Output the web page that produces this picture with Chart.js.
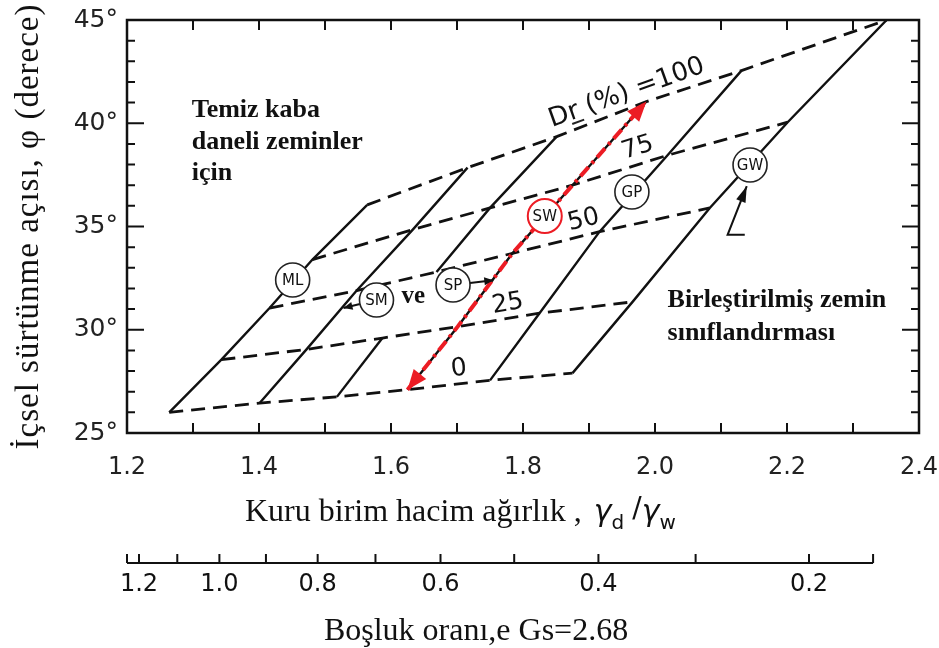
<!DOCTYPE html>
<html>
<head>
<meta charset="utf-8">
<title>İçsel sürtünme açısı - kuru birim hacim ağırlık</title>
<script src="https://cdn.jsdelivr.net/npm/chart.js@4.4.1/dist/chart.umd.min.js"></script>
<style>
  html, body { margin: 0; padding: 0; background: #fff; }
</style>
</head>
<body>
<canvas id="phiChart" width="939" height="648"></canvas>
<script>
// specific gravity used for the void ratio scale
const GS = 2.68;

// relative density contours, Dr (%)
const drLevels = [0, 25, 50, 75, 100];
const drLabels = ['0', '25', '50', '75', '100'];

// dry unit weight (γd/γw) and friction angle φ where each soil line meets a Dr contour
// (null = the line does not reach that contour)
const mlGamma = [1.264, 1.343, 1.416, 1.481, 1.564];
const mlPhi = [26.0, 28.55, 31.05, 33.4, 36.05];
const smGamma = [1.401, 1.472, 1.548, 1.633, 1.716];
const smPhi = [26.45, 29.05, 31.9, 34.85, 37.85];
const midGamma = [1.518, 1.587, null, null, null];
const midPhi = [26.75, 29.6, null, null, null];
const spGamma = [null, null, 1.669, 1.750, 1.851];
const spPhi = [null, null, 32.8, 35.9, 39.35];
const swGamma = [1.625, 1.701, 1.784, 1.875, 1.987];
const swPhi = [27.1, 30.15, 33.7, 37.0, 41.05];
const gpGamma = [1.750, 1.825, 1.916, 2.019, 2.131];
const gpPhi = [27.55, 30.8, 34.75, 38.45, 42.55];
const gwGamma = [1.875, 1.966, 2.083, 2.201, 2.351];
const gwPhi = [27.9, 31.35, 35.9, 40.05, 45.0];

// soil group symbols (circled) on the lines
const soilSymbols = ['ML', 'SM', 'SP', 'SW', 'GP', 'GW'];
const symbolGamma = [1.451, 1.578, 1.694, 1.833, 1.965, 2.144];
const symbolPhi = [32.41, 31.44, 32.17, 35.51, 36.67, 37.98];

// axis ticks
const gammaTicks = [1.2, 1.3, 1.4, 1.5, 1.6, 1.7, 1.8, 1.9, 2.0, 2.1, 2.2, 2.3, 2.4];
const gammaLabels = ['1.2', '1.4', '1.6', '1.8', '2.0', '2.2', '2.4'];
const phiTicks = [25, 26, 27, 28, 29, 30, 31, 32, 33, 34, 35, 36, 37, 38, 39, 40, 41, 42, 43, 44, 45];
const phiLabels = ['25°', '30°', '35°', '40°', '45°'];
const voidTicks = [1.2, 1.1, 1.0, 0.9, 0.8, 0.7, 0.6, 0.5, 0.4, 0.3, 0.2];
const voidLabels = ['1.2', '1.0', '0.8', '0.6', '0.4', '0.2'];
const voidAxisEnd = 0.15;

// where the Dr numbers sit (γd/γw, φ) — 0, 25, 50, 75 and the "Dr (%) =100" text start
const drTagAt = [[1.703, 28.10], [1.777, 31.25], [1.892, 35.31], [1.974, 38.80], [1.844, 39.82]];

const soilLines = [
  { gamma: mlGamma, phi: mlPhi },
  { gamma: smGamma, phi: smPhi },
  { gamma: midGamma, phi: midPhi },
  { gamma: spGamma, phi: spPhi },
  { gamma: swGamma, phi: swPhi },
  { gamma: gpGamma, phi: gpPhi },
  { gamma: gwGamma, phi: gwPhi }
];

function toPoints(g, p) {
  return g.map((v, i) => (v === null ? null : { x: v, y: p[i] })).filter(Boolean);
}

const datasets = [];

// red dash-dot path along the SW line (arrow heads added by the plugin)
datasets.push({
  data: toPoints(swGamma, swPhi),
  borderColor: '#ec1c24',
  borderWidth: 4,
  borderDash: [12, 5, 3, 5],
  order: 0
});

soilLines.forEach(l => {
  datasets.push({
    data: toPoints(l.gamma, l.phi),
    borderColor: '#111',
    borderWidth: 2.4,
    order: 1
  });
});

drLevels.forEach((dr, i) => {
  const pts = soilLines
    .filter(l => l.gamma[i] !== null)
    .map(l => ({ x: l.gamma[i], y: l.phi[i] }))
    .sort((a, b) => a.x - b.x);
  datasets.push({
    data: pts,
    borderColor: '#111',
    borderWidth: 2.8,
    borderDash: [14, 8],
    order: 2
  });
});

function arrowHead(ctx, from, to, len, half, color) {
  const a = Math.atan2(to.y - from.y, to.x - from.x);
  ctx.save();
  ctx.translate(to.x, to.y);
  ctx.rotate(a);
  ctx.beginPath();
  ctx.moveTo(0, 0);
  ctx.lineTo(-len, half);
  ctx.lineTo(-len, -half);
  ctx.closePath();
  ctx.fillStyle = color;
  ctx.fill();
  ctx.restore();
}

const overlay = {
  id: 'phiOverlay',
  afterDatasetsDraw(chart) {
    const { ctx, scales: { x, y } } = chart;
    const P = (g, f) => ({ x: x.getPixelForValue(g), y: y.getPixelForValue(f) });
    ctx.save();

    // arrow heads on both ends of the red path
    const n = swGamma.length;
    arrowHead(ctx, P(swGamma[n - 2], swPhi[n - 2]), P(swGamma[n - 1], swPhi[n - 1]), 20, 8, '#ec1c24');
    arrowHead(ctx, P(swGamma[1], swPhi[1]), P(swGamma[0], swPhi[0]), 20, 8, '#ec1c24');

    // leaders from SM and SP circles, pointer to GW
    ctx.strokeStyle = '#111';
    ctx.lineWidth = 2;
    const leaders = [[1, [1.528, 31.05]], [2, [1.755, 32.40]]];
    leaders.forEach(([k, t]) => {
      const c = P(symbolGamma[k], symbolPhi[k]);
      const e = P(t[0], t[1]);
      const a = Math.atan2(e.y - c.y, e.x - c.x);
      const s = { x: c.x + 17 * Math.cos(a), y: c.y + 17 * Math.sin(a) };
      ctx.beginPath();
      ctx.moveTo(s.x, s.y);
      ctx.lineTo(e.x, e.y);
      ctx.stroke();
      arrowHead(ctx, s, e, 9, 4, '#111');
    });
    const gwPointer = [P(2.136, 34.6), P(2.110, 34.6), P(2.139, 36.95)];
    ctx.beginPath();
    ctx.moveTo(gwPointer[0].x, gwPointer[0].y);
    ctx.lineTo(gwPointer[1].x, gwPointer[1].y);
    ctx.lineTo(gwPointer[2].x, gwPointer[2].y);
    ctx.stroke();
    arrowHead(ctx, gwPointer[1], gwPointer[2], 16, 5, '#111');

    // circled soil symbols
    soilSymbols.forEach((s, k) => {
      const c = P(symbolGamma[k], symbolPhi[k]);
      const red = s === 'SW';
      ctx.beginPath();
      ctx.arc(c.x, c.y, 17, 0, Math.PI * 2);
      ctx.fillStyle = '#fff';
      ctx.fill();
      ctx.lineWidth = red ? 2 : 1.6;
      ctx.strokeStyle = red ? '#ec1c24' : '#222';
      ctx.stroke();
      ctx.fillStyle = '#111';
      ctx.font = '15px "DejaVu Sans"';
      ctx.textAlign = 'center';
      ctx.textBaseline = 'middle';
      ctx.fillText(s, c.x, c.y + 1);
    });

    // Dr numbers, turned along their contour
    const angleOf = i => {
      const a = P(swGamma[i], swPhi[i]);
      const b = P(gpGamma[i], gpPhi[i]);
      return Math.atan2(b.y - a.y, b.x - a.x);
    };
    ctx.fillStyle = '#111';
    ctx.font = '25px "DejaVu Sans"';
    for (let i = 0; i < 4; i++) {
      const c = P(drTagAt[i][0], drTagAt[i][1]);
      ctx.save();
      ctx.translate(c.x, c.y);
      ctx.rotate(angleOf(i));
      ctx.textAlign = 'center';
      ctx.textBaseline = 'middle';
      ctx.fillText(drLabels[i], 0, 0);
      ctx.restore();
    }
    const d = P(drTagAt[4][0], drTagAt[4][1]);
    ctx.save();
    ctx.translate(d.x, d.y);
    ctx.rotate(angleOf(4) - 0.03);
    ctx.textAlign = 'left';
    ctx.textBaseline = 'alphabetic';
    ctx.font = '26px "DejaVu Sans"';
    const tag = 'Dr (%) =' + drLabels[4];
    ctx.fillText(tag, 0, 0);
    const wD = ctx.measureText('D').width;
    const wr = ctx.measureText('r').width;
    ctx.lineWidth = 2;
    ctx.beginPath();
    ctx.moveTo(wD, 4);
    ctx.lineTo(wD + wr + 2, 4);
    ctx.stroke();
    ctx.restore();

    // notes inside the plot
    ctx.fillStyle = '#111';
    ctx.textAlign = 'left';
    ctx.textBaseline = 'alphabetic';
    ctx.font = 'bold 26px "Liberation Serif"';
    const t = P(1.298, 40.30);
    ['Temiz kaba', 'daneli zeminler', 'için'].forEach((s, i) => ctx.fillText(s, t.x, t.y + i * 31.5));
    const b = P(2.019, 31.10);
    ['Birleştirilmiş zemin', 'sınıflandırması'].forEach((s, i) => ctx.fillText(s, b.x, b.y + i * 33));
    ctx.font = 'bold 25px "Liberation Serif"';
    const v = P(1.616, 31.30);
    ctx.fillText('ve', v.x, v.y);

    ctx.restore();
  },
  afterDraw(chart) {
    const { ctx, chartArea: area, scales: { x, y } } = chart;
    ctx.save();
    ctx.strokeStyle = '#111';
    ctx.lineWidth = 2.5;
    ctx.strokeRect(area.left, area.top, area.right - area.left, area.bottom - area.top);

    // inward tick marks on all four sides
    ctx.lineWidth = 2;
    ctx.beginPath();
    gammaTicks.forEach(g => {
      const xp = x.getPixelForValue(g);
      ctx.moveTo(xp, area.bottom); ctx.lineTo(xp, area.bottom - 10);
      ctx.moveTo(xp, area.top); ctx.lineTo(xp, area.top + 10);
    });
    phiTicks.forEach(f => {
      const yp = y.getPixelForValue(f);
      const len = f % 5 === 0 ? 17 : 8;
      ctx.moveTo(area.left, yp); ctx.lineTo(area.left + len, yp);
      ctx.moveTo(area.right, yp); ctx.lineTo(area.right - len, yp);
    });
    ctx.stroke();

    // y axis title
    ctx.fillStyle = '#111';
    ctx.save();
    ctx.translate(29, (area.top + area.bottom) / 2);
    ctx.rotate(-Math.PI / 2);
    ctx.font = '33px "Liberation Serif"';
    ctx.letterSpacing = '1px';
    ctx.textAlign = 'center';
    ctx.textBaseline = 'middle';
    ctx.fillText('İçsel sürtünme açısı, φ (derece)', 0, 0);
    ctx.restore();

    // x axis title with γd / γw
    const base = area.bottom + 88;
    let cx = 245;
    ctx.textAlign = 'left';
    ctx.textBaseline = 'alphabetic';
    ctx.font = '32px "Liberation Serif"';
    const main = 'Kuru birim hacim ağırlık ,';
    ctx.fillText(main, cx, base);
    cx += ctx.measureText(main).width + 12;
    ctx.font = 'italic 30px "DejaVu Sans"';
    ctx.fillText('γ', cx, base);
    cx += ctx.measureText('γ').width;
    ctx.font = '20px "DejaVu Sans"';
    ctx.fillText('d', cx, base + 8);
    cx += ctx.measureText('d').width + 8;
    ctx.font = '28px "DejaVu Sans"';
    ctx.fillText('/', cx, base - 4);
    cx += ctx.measureText('/').width;
    ctx.font = 'italic 30px "DejaVu Sans"';
    ctx.fillText('γ', cx, base);
    cx += ctx.measureText('γ').width;
    ctx.font = '20px "DejaVu Sans"';
    ctx.fillText('w', cx, base + 8);

    // void ratio scale, e = Gs/(γd/γw) - 1
    const lineY = area.bottom + 130;
    const xe = e => x.getPixelForValue(GS / (1 + e));
    ctx.lineWidth = 2;
    ctx.beginPath();
    ctx.moveTo(area.left, lineY);
    ctx.lineTo(xe(voidAxisEnd), lineY);
    voidTicks.forEach(e => { ctx.moveTo(xe(e), lineY); ctx.lineTo(xe(e), lineY - 9); });
    ctx.moveTo(area.left, lineY); ctx.lineTo(area.left, lineY - 9);
    ctx.moveTo(xe(voidAxisEnd), lineY); ctx.lineTo(xe(voidAxisEnd), lineY - 9);
    ctx.stroke();
    ctx.font = '24px "DejaVu Sans"';
    ctx.textAlign = 'center';
    ctx.textBaseline = 'middle';
    voidLabels.forEach(s => ctx.fillText(s, xe(parseFloat(s)), lineY + 22));

    ctx.font = '32px "Liberation Serif"';
    ctx.textBaseline = 'alphabetic';
    ctx.fillText('Boşluk oranı,e Gs=2.68', 476, area.bottom + 207);
    ctx.restore();
  }
};

new Chart(document.getElementById('phiChart'), {
  type: 'scatter',
  data: { datasets: datasets },
  options: {
    responsive: false,
    animation: false,
    showLine: true,
    elements: { point: { radius: 0, hoverRadius: 0 }, line: { tension: 0 } },
    layout: { padding: { left: 0, right: 0, top: 20, bottom: 0 } },
    plugins: { legend: { display: false }, tooltip: { enabled: false } },
    scales: {
      x: {
        type: 'linear',
        min: 1.2,
        max: 2.4,
        afterBuildTicks: s => { s.ticks = gammaTicks.map(v => ({ value: v })); },
        afterFit: s => { s.height = 215; s.paddingLeft = 0; s.paddingRight = 20; },
        grid: { display: false, drawTicks: false },
        border: { display: false },
        ticks: {
          autoSkip: false,
          maxRotation: 0,
          padding: 20,
          color: '#222',
          font: { family: 'DejaVu Sans', size: 24 },
          callback: v => (gammaLabels.includes(v.toFixed(1)) ? v.toFixed(1) : '')
        }
      },
      y: {
        type: 'linear',
        min: 25,
        max: 45,
        afterBuildTicks: s => { s.ticks = phiTicks.map(v => ({ value: v })); },
        afterFit: s => { s.width = 127; s.paddingTop = 0; s.paddingBottom = 0; },
        grid: { display: false, drawTicks: false },
        border: { display: false },
        ticks: {
          autoSkip: false,
          padding: 9,
          color: '#222',
          font: { family: 'DejaVu Sans', size: 25 },
          callback: v => (phiLabels.includes(v + '°') ? v + '°' : '')
        }
      }
    }
  },
  plugins: [overlay]
});
</script>
</body>
</html>
